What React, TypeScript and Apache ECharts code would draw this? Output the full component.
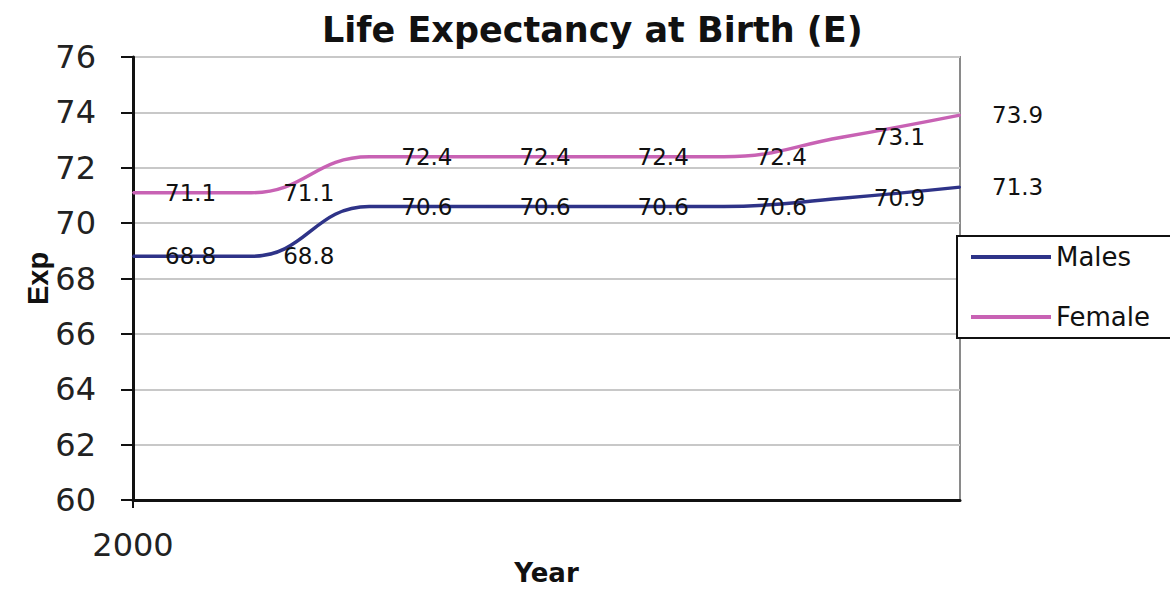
import React, { useEffect, useRef } from "react";
import * as echarts from "echarts";

const years = ["2000", "2001", "2002", "2003", "2004", "2005", "2006", "2007"];
const males = [68.8, 68.8, 70.6, 70.6, 70.6, 70.6, 70.9, 71.3];
const female = [71.1, 71.1, 72.4, 72.4, 72.4, 72.4, 73.1, 73.9];
const yMin = 60;
const yMax = 76;
const yStep = 2;

const FONT = "DejaVu Sans";

export default function App() {
  const ref = useRef<HTMLDivElement>(null);
  useEffect(() => {
    if (!ref.current) return;
    const chart = echarts.init(ref.current, null, { renderer: "svg" });
    const labelStyle = {
      show: true,
      position: "right" as const,
      distance: 31,
      color: "#111",
      fontFamily: FONT,
      fontSize: 23,
    };
    chart.setOption({
      animation: false,
      backgroundColor: "#fff",
      textStyle: { fontFamily: FONT },
      title: {
        text: "Life Expectancy at Birth (E)",
        left: 322,
        top: 12,
        padding: 0,
        textStyle: { fontFamily: FONT, fontWeight: "bold", fontSize: 35, color: "#111" },
      },
      legend: {
        orient: "vertical",
        left: 957,
        top: 236,
        icon: "rect",
        itemWidth: 80,
        itemHeight: 4,
        itemGap: 34,
        padding: [8, 26, 8, 14],
        backgroundColor: "#fff",
        borderColor: "#111",
        borderWidth: 2,
        z: 10,
        textStyle: { fontFamily: FONT, fontSize: 26, color: "#111", lineHeight: 26 },
        data: ["Males", "Female"],
      },
      grid: {
        left: 133,
        width: 827,
        top: 57,
        height: 443,
        containLabel: false,
        outerBoundsMode: "none",
        show: true,
        backgroundColor: "#fff",
        borderColor: "#8a8a8a",
        borderWidth: 2,
      },
      xAxis: {
        type: "category",
        data: years,
        boundaryGap: false,
        name: "Year",
        nameLocation: "middle",
        nameGap: 59,
        nameMoveOverlap: false,
        nameTextStyle: {
          fontFamily: FONT,
          fontWeight: "bold",
          fontSize: 26,
          lineHeight: 28,
          color: "#111",
        },
        axisLine: { show: true, lineStyle: { color: "#111", width: 3 } },
        axisTick: {
          show: true,
          length: 8,
          interval: (i: number) => i === 0,
          lineStyle: { color: "#111", width: 2 },
        },
        axisLabel: {
          interval: (i: number) => i === 0,
          margin: 29,
          fontFamily: FONT,
          fontSize: 32,
          color: "#222",
        },
        splitLine: { show: false },
      },
      yAxis: {
        type: "value",
        min: yMin,
        max: yMax,
        interval: yStep,
        name: "Exp",
        nameLocation: "middle",
        nameRotate: 90,
        nameGap: 81,
        nameMoveOverlap: false,
        nameTextStyle: {
          fontFamily: "Liberation Sans",
          fontWeight: "bold",
          fontSize: 29,
          color: "#111",
        },
        axisLine: { show: true, lineStyle: { color: "#111", width: 3 } },
        axisTick: { show: true, inside: false, length: 12, lineStyle: { color: "#111", width: 2 } },
        axisLabel: { margin: 37, fontFamily: FONT, fontSize: 32, color: "#222" },
        splitLine: { show: true, lineStyle: { color: "#c8c8c8", width: 2 } },
      },
      series: [
        {
          name: "Males",
          type: "line",
          data: males,
          smooth: 0.45,
          symbol: "circle",
          symbolSize: 2,
          showSymbol: true,
          itemStyle: { color: "#2E3388" },
          lineStyle: { color: "#2E3388", width: 3.5 },
          label: labelStyle,
          z: 3,
        },
        {
          name: "Female",
          type: "line",
          data: female,
          smooth: 0.45,
          symbol: "circle",
          symbolSize: 2,
          showSymbol: true,
          itemStyle: { color: "#C862B4" },
          lineStyle: { color: "#C862B4", width: 3.5 },
          label: labelStyle,
          z: 3,
        },
      ],
    });
    return () => chart.dispose();
  }, []);
  return (
    <div
      ref={ref}
      style={{ position: "fixed", left: 0, top: 0, width: 1170, height: 590, background: "#fff" }}
    />
  );
}
